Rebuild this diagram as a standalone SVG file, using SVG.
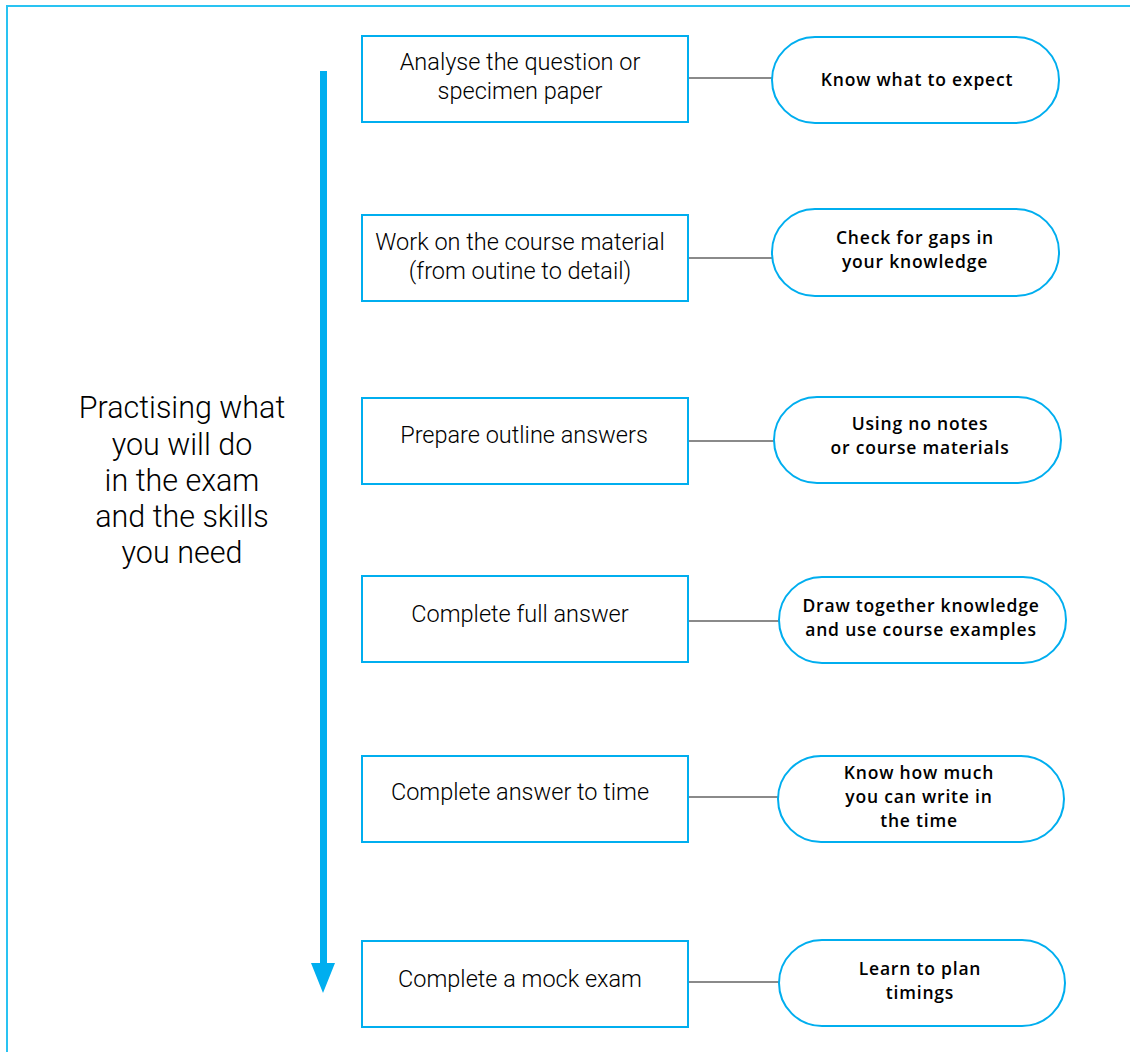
<svg xmlns="http://www.w3.org/2000/svg" width="1130" height="1052" viewBox="0 0 1130 1052">
<style>
.frame{fill:none;stroke:#29c3f2;stroke-width:2}
.box{fill:#fff;stroke:#00aeef;stroke-width:2}
.pill{fill:#fff;stroke:#00aeef;stroke-width:2}
.conn{stroke:#8a8a8a;stroke-width:2;fill:none}
.bt{font-family:Roboto,"Open Sans","Liberation Sans",sans-serif;font-weight:300;font-size:23.5px;fill:#000;text-anchor:middle}
.pt{font-family:"Open Sans","Liberation Sans",sans-serif;font-weight:600;font-size:17.5px;letter-spacing:0.8px;fill:#000;text-anchor:middle}
.lt{font-family:Roboto,"Open Sans","Liberation Sans",sans-serif;font-weight:300;font-size:30.5px;fill:#000;text-anchor:middle}
</style>
<rect x="0" y="0" width="1130" height="1052" fill="#fff"/>
<path class="frame" d="M7,1052 V6 H1130"/>
<g id="timeline">
<rect x="320" y="71" width="7" height="895" fill="#00aeef"/>
<path d="M311,963 L335,963 L323,993 Z" fill="#00aeef"/>
</g>
<g id="label">
<text class="lt" x="182" y="418">Practising what</text>
<text class="lt" x="182" y="455">you will do</text>
<text class="lt" x="182" y="491">in the exam</text>
<text class="lt" x="182" y="527">and the skills</text>
<text class="lt" x="182" y="563">you need</text>
</g>
<g id="connectors">
<line class="conn" x1="689" y1="78" x2="772" y2="78"/>
<line class="conn" x1="689" y1="258" x2="772" y2="258"/>
<line class="conn" x1="689" y1="441" x2="774" y2="441"/>
<line class="conn" x1="689" y1="621" x2="779" y2="621"/>
<line class="conn" x1="689" y1="797" x2="778" y2="797"/>
<line class="conn" x1="689" y1="982" x2="779" y2="982"/>
</g>
<g id="step1"><rect class="box" x="362" y="36" width="326" height="86"/>
<text class="bt" x="520" y="70">Analyse the question or</text><text class="bt" x="520" y="99">specimen paper</text></g>
<g id="step2"><rect class="box" x="362" y="215" width="326" height="86"/>
<text class="bt" x="520" y="250">Work on the course material</text><text class="bt" x="520" y="279">(from outine to detail)</text></g>
<g id="step3"><rect class="box" x="362" y="398" width="326" height="86"/>
<text class="bt" x="524" y="443">Prepare outline answers</text></g>
<g id="step4"><rect class="box" x="362" y="576" width="326" height="86"/>
<text class="bt" x="520" y="622">Complete full answer</text></g>
<g id="step5"><rect class="box" x="362" y="756" width="326" height="86"/>
<text class="bt" x="520" y="800">Complete answer to time</text></g>
<g id="step6"><rect class="box" x="362" y="941" width="326" height="86"/>
<text class="bt" x="520" y="987">Complete a mock exam</text></g>
<g id="note1"><rect class="pill" x="772" y="37" width="287" height="86" rx="43"/>
<text class="pt" x="917" y="86">Know what to expect</text></g>
<g id="note2"><rect class="pill" x="772" y="209" width="287" height="87" rx="43"/>
<text class="pt" x="915" y="244">Check for gaps in</text><text class="pt" x="915" y="268">your knowledge</text></g>
<g id="note3"><rect class="pill" x="774" y="397" width="287" height="86" rx="43"/>
<text class="pt" x="920" y="430">Using no notes</text><text class="pt" x="920" y="454">or course materials</text></g>
<g id="note4"><rect class="pill" x="779" y="577" width="287" height="86" rx="43"/>
<text class="pt" x="921" y="612">Draw together knowledge</text><text class="pt" x="921" y="636">and use course examples</text></g>
<g id="note5"><rect class="pill" x="778" y="756" width="286" height="86" rx="43"/>
<text class="pt" x="919" y="779">Know how much</text><text class="pt" x="919" y="803">you can write in</text><text class="pt" x="919" y="827">the time</text></g>
<g id="note6"><rect class="pill" x="779" y="940" width="286" height="86" rx="43"/>
<text class="pt" x="920" y="975">Learn to plan</text><text class="pt" x="920" y="999">timings</text></g>
</svg>
